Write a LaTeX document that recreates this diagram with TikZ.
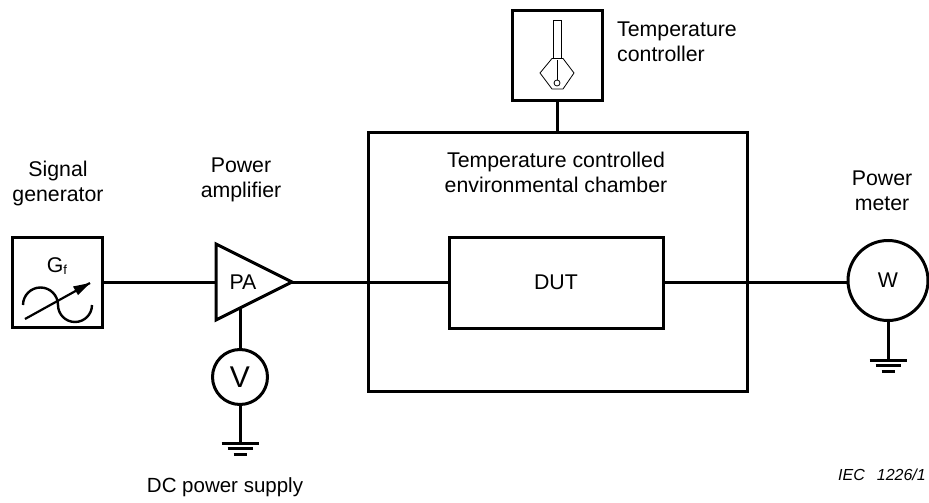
\documentclass[tikz,border=0pt]{standalone}
\usepackage{fontspec}
\setmainfont{Liberation Sans}
\usetikzlibrary{arrows}
\tikzset{
  heavy/.style={line width=3pt},
  boxnode/.style={draw,heavy,rectangle,inner sep=0pt,outer sep=0pt},
  meternode/.style={draw,heavy,circle,inner sep=0pt,outer sep=0pt},
  label/.style={font=\fontsize{21.3}{25.5}\selectfont,align=center,inner sep=0pt},
  ground/.pic={
    \draw [heavy] (-18.5,0) -- (18.5,0);
    \draw [heavy] (-12.5,5.5) -- (12.5,5.5);
    \draw [heavy] (-6.5,11) -- (6.5,11);
  }
}
\begin{document}
\begin{tikzpicture}[x=1pt,y=-1pt]
\useasboundingbox (0,0) rectangle (929,503);
% boxes
\node [boxnode,minimum width=90pt,minimum height=90pt] (gen) at (57.5,282) {};
\node [boxnode,minimum width=90pt,minimum height=90pt] (ctrl) at (557.5,55.5) {};
\node [boxnode,minimum width=379pt,minimum height=259pt] (chamber) at (557.5,261.5) {};
\node [boxnode,minimum width=214pt,minimum height=91pt,label] (DUT) at (556,282.5) {DUT};
\node [meternode,minimum size=80pt,label] (W) at (888,280.5) {W};
\node [meternode,minimum size=55pt,font=\fontsize{30}{30}\selectfont] (V) at (240,377) {V};
% amplifier
\coordinate (PAtop) at (216,244);
\coordinate (PAbot) at (216,320);
\coordinate (PAtip) at (292,282);
\draw [heavy,line join=miter] (PAtop) -- (PAtip) -- (PAbot) -- cycle;
\node [label] (PA) at (243,282) {PA};
\coordinate (PAin) at (216,282);
\coordinate (PAout) at (240,308);
\coordinate (gndV) at (240,443);
\coordinate (gndW) at (888,360);
% wires
\draw [heavy] (gen.east |- PAin) -- (PAin);
\draw [heavy] (PAtip) -- (DUT.west |- PAtip);
\draw [heavy] (DUT.east |- PAtip) -- (W.west |- PAtip);
\draw [heavy] (PAout) -- (V.north);
\draw [heavy] (V.south) -- (gndV);
\draw [heavy] (W.south) -- (gndW);
\draw [heavy] (ctrl.south) -- (ctrl.south |- chamber.north);
\pic at (gndV) {ground};
\pic at (gndW) {ground};
% generator symbol
\node [label] (Gf) at (57,266) {G\raisebox{-2pt}{\fontsize{13}{13}\selectfont f}};
\draw [line width=2.4pt] (23,305) arc (180:360:17.5) arc (180:0:17);
\draw [line width=2.2pt] (25,319) -- (90,283);
\fill (90,283) -- (73,286.5) -- (78,295) -- cycle;
% thermometer
\draw [line width=0.8pt] (553,58) -- (553,20.5) -- (561,20.5) -- (561,58);
\draw [line width=0.8pt] (540,73) -- (552,58.5) -- (563,58.5) -- (574,73) -- (563,89) -- (552,89) -- cycle;
\draw [line width=0.8pt] (557,60) -- (557,80);
\draw [line width=0.8pt] (557,83) circle (3);
% labels
\node [label] (sigtext) at (58,183.5) {Signal\\generator};
\node [label] (amptext) at (241,180) {Power\\amplifier};
\node [label,align=left,anchor=west] (ctrltext) at (617,42) {Temperature\\controller};
\node [label] (chambertext) at (556,172.5) {Temperature controlled\\environmental chamber};
\node [label] (powtext) at (882,191) {Power\\meter};
\node [label,font=\fontsize{20.5}{25.5}\selectfont] (dctext) at (225,487) {DC power supply};
\node [font=\fontsize{16}{16}\selectfont\itshape,inner sep=0pt,anchor=east] (iec) at (926,475) {IEC\hspace{12pt}1226/1};
\end{tikzpicture}
\end{document}
